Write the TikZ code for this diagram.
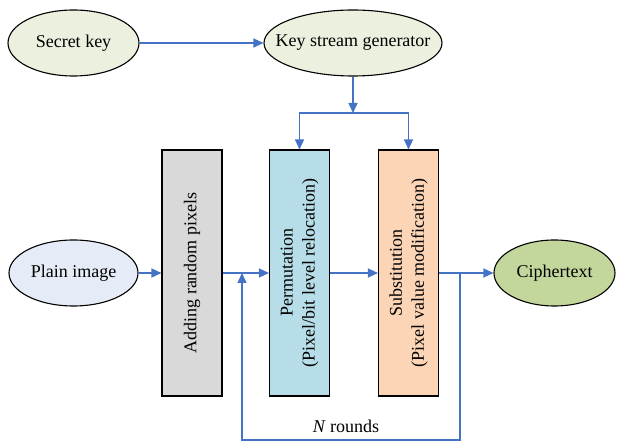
\documentclass[tikz,border=0pt]{standalone}
\usepackage{fontspec}
\setmainfont{Liberation Serif}
\usetikzlibrary{shapes.geometric,arrows.meta}
\definecolor{arrowblue}{HTML}{4472C4}
\definecolor{keyfill}{HTML}{EBF1DE}
\definecolor{plainfill}{HTML}{E6ECF7}
\definecolor{cipherfill}{HTML}{C3D69B}
\definecolor{grayfill}{HTML}{D9D9D9}
\definecolor{bluefill}{HTML}{B7DEE8}
\definecolor{orangefill}{HTML}{FBD5B5}
\tikzset{
  ell/.style={ellipse, draw=black, line width=1.1pt, inner sep=0pt, minimum height=66pt},
  lbl/.style={font=\fontsize{18}{20}\selectfont, inner sep=0pt},
  blk/.style={draw=black, line width=1.1pt, minimum width=60pt, minimum height=246pt, inner sep=0pt},
  rtext/.style={rotate=90, align=center, font=\fontsize{18}{22}\selectfont},
  conn/.style={draw=arrowblue, line width=1.4pt},
  arr/.style={conn, -{Triangle[length=10pt,width=9pt]}},
}
\begin{document}
\begin{tikzpicture}[x=1pt,y=-1pt]
\useasboundingbox (0,0) rectangle (619,443);
\node[ell, fill=keyfill, minimum width=131pt] (sk) at (73.5,43) {};
\node[ell, fill=keyfill, minimum width=178pt] (ksg) at (353,43) {};
\node[ell, fill=plainfill, minimum width=129pt] (pi) at (73.5,273) {};
\node[ell, fill=cipherfill, minimum width=121pt] (ct) at (554.5,273) {};
\node[lbl] (skt) at (sk.center) {Secret key};
\node[lbl] (ksgt) at (ksg.center) {Key stream generator};
\node[lbl] (pit) at (pi.center) {Plain image};
\node[lbl] (ctt) at (ct.center) {Ciphertext};
\node[blk, fill=grayfill] (b1) at (192,273) {};
\node[blk, fill=bluefill] (b2) at (299.5,273) {};
\node[blk, fill=orangefill] (b3) at (408.5,273) {};
\node[rtext] (t1) at (b1.center) {Adding random pixels};
\node[rtext] (t2) at (b2.center) {Permutation\\(Pixel/bit level relocation)};
\node[rtext] (t3) at (b3.center) {Substitution\\(Pixel value modification)};
\coordinate (split) at (353,113);
\coordinate (ret) at (460,273);
\coordinate (retb) at (460,440);
\coordinate (retc) at (242,440);
\coordinate (join) at (242,273);
\draw[arr] (sk) -- (ksg);
\draw[arr] (ksg) -- (split);
\draw[arr] (split) -| (b2.north);
\draw[arr] (split) -| (b3.north);
\draw[arr] (pi) -- (b1);
\draw[arr] (b1) -- (b2);
\draw[arr] (b2) -- (b3);
\draw[arr] (b3) -- (ct);
\draw[arr] (ret) -- (retb) -- (retc) -- (join);
\node[font=\fontsize{18}{20}\selectfont] (nr) at (346,426) {\textit{N} rounds};
\end{tikzpicture}
\end{document}
